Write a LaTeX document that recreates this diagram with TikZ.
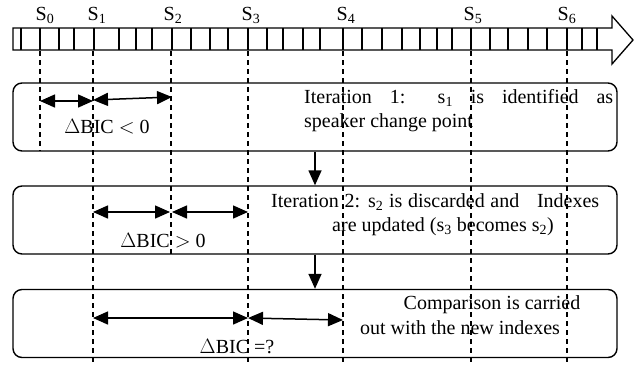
\documentclass[tikz,border=0pt]{standalone}
\usepackage{fontspec}
\setmainfont{Liberation Serif}
\usetikzlibrary{arrows.meta}
\begin{document}
\begin{tikzpicture}[x=1pt,y=-1pt,
  bar/.style={line width=1.3pt},
  cell/.style={line width=1.1pt},
  guide/.style={line width=1.2pt,dash pattern=on 5pt off 4pt},
  stagebox/.style={draw,line width=1.4pt,rounded corners=9pt,minimum width=604pt,minimum height=68pt,inner sep=0pt},
  span/.style={line width=1.5pt,{Triangle[length=15pt,width=13pt]}-{Triangle[length=15pt,width=13pt]}},
  flow/.style={line width=1.5pt,-{Triangle[length=15pt,width=13pt]}},
  txt/.style={inner sep=0pt,font=\fontsize{20}{22}\selectfont},
  lab/.style={inner sep=0pt,font=\fontsize{20}{22}\selectfont}
]
\useasboundingbox (0,0) rectangle (639,365);
% time bar
\draw[bar] (13,28) -- (612,28) -- (612,16) -- (633,40) -- (612,64) -- (612,50) -- (13,50) -- cycle;
\foreach \x in {21,40,59,74,94,119,136,152,172,191,210,228,248,267,283,303,320,343,362,382,402,420,437,452,471,490,508,528,547,567,582,597}
  \draw[cell] (\x,28) -- (\x,50);
% labels
\node[lab] (s0) at (45,15) {S\textsubscript{0}};
\node[lab] (s1) at (97,15) {S\textsubscript{1}};
\node[lab] (s2) at (173,15) {S\textsubscript{2}};
\node[lab] (s3) at (251,15) {S\textsubscript{3}};
\node[lab] (s4) at (346,15) {S\textsubscript{4}};
\node[lab] (s5) at (473,15) {S\textsubscript{5}};
\node[lab] (s6) at (567,15) {S\textsubscript{6}};
% guide coordinates
\coordinate (g0a) at (40,51);  \coordinate (g0b) at (40,151);
\coordinate (g1a) at (93,51);  \coordinate (g1b) at (93,365);
\coordinate (g2a) at (171,51); \coordinate (g2b) at (171,254);
\coordinate (g3a) at (248,51); \coordinate (g3b) at (248,365);
\coordinate (g4a) at (343,51); \coordinate (g4b) at (343,365);
\coordinate (g5a) at (471,51); \coordinate (g5b) at (471,365);
\coordinate (g6a) at (567,51); \coordinate (g6b) at (567,365);
% boxes
\node[stagebox] (box1) at (315,117) {};
\node[stagebox] (box2) at (315,220) {};
\node[stagebox] (box3) at (315,323.5) {};
\foreach \i in {0,...,6} \draw[guide] (g\i a) -- (g\i b);
\draw[flow] (box1.south) -- (box2.north);
\draw[flow] (box2.south) -- (box3.north);
% box 1
\coordinate (a10) at (40,101); \coordinate (a11) at (93,101);
\coordinate (a12) at (93,100); \coordinate (a13) at (172,97);
\draw[span] (a10) -- (a11);
\draw[span] (a12) -- (a13);
\node[txt] (d1) at (107,127) {$\Delta$BIC $<$ 0};
\node[txt,anchor=west] (t11) at (304,98) {\makebox[309pt][s]{Iteration 1: s\textsubscript{1} is identified as}};
\node[txt,anchor=west] (t12) at (304,123) {speaker change point};
% box 2
\coordinate (a20) at (93,212); \coordinate (a21) at (170,212);
\coordinate (a22) at (172,212); \coordinate (a23) at (248,212);
\draw[span] (a20) -- (a21);
\draw[span] (a22) -- (a23);
\node[txt] (d2) at (163,241) {$\Delta$BIC $>$ 0};
\node[txt,anchor=west] (t21) at (271,202) {\makebox[328pt][s]{Iteration 2: s\textsubscript{2} is discarded and\hspace{0.6em} Indexes}};
\node[txt] (t22) at (443,227) {are updated (s\textsubscript{3} becomes s\textsubscript{2})};
% box 3
\coordinate (a30) at (93,318); \coordinate (a31) at (248,318);
\coordinate (a32) at (248,318); \coordinate (a33) at (343,320);
\draw[span] (a30) -- (a31);
\draw[span] (a32) -- (a33);
\node[txt] (d3) at (237,347) {$\Delta$BIC =?};
\node[txt] (t31) at (492,305) {Comparison is carried};
\node[txt] (t32) at (460,328) {out with the new indexes};
\end{tikzpicture}
\end{document}
